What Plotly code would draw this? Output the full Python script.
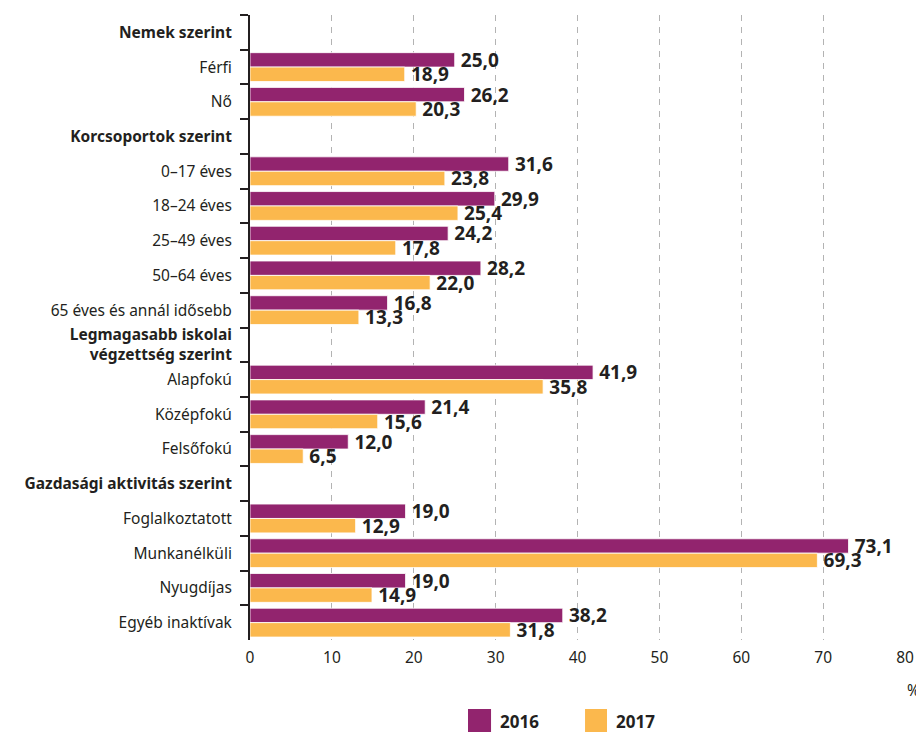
import plotly.graph_objects as go

categories = [
    "<b>Nemek szerint</b>", "Férfi", "Nő",
    "<b>Korcsoportok szerint</b>", "0–17 éves", "18–24 éves", "25–49 éves", "50–64 éves",
    "65 éves és annál idősebb",
    "<b>Legmagasabb iskolai<br>végzettség szerint</b>", "Alapfokú", "Középfokú", "Felsőfokú",
    "<b>Gazdasági aktivitás szerint</b>", "Foglalkoztatott", "Munkanélküli", "Nyugdíjas",
    "Egyéb inaktívak",
]
values_2016 = [None, 25.0, 26.2, None, 31.6, 29.9, 24.2, 28.2, 16.8, None, 41.9, 21.4, 12.0,
               None, 19.0, 73.1, 19.0, 38.2]
values_2017 = [None, 18.9, 20.3, None, 23.8, 25.4, 17.8, 22.0, 13.3, None, 35.8, 15.6, 6.5,
               None, 12.9, 69.3, 14.9, 31.8]
x_ticks = [0, 10, 20, 30, 40, 50, 60, 70, 80]
series_names = ["2016", "2017"]
colors = ["#92246e", "#fbb84d"]

FONT = "Noto Sans"
DARK = "#231f20"


def fmt(vals, pad="\u2009"):
    return [pad + f"{v:.1f}".replace(".", ",") if v is not None else "" for v in vals]


fig = go.Figure()
for name, vals, col in [(series_names[0], values_2016, colors[0]),
                        (series_names[1], values_2017, colors[1])]:
    fig.add_trace(go.Bar(
        y=categories, x=vals, orientation="h", name=name,
        marker=dict(color=col, line=dict(color="rgba(255,255,255,0.8)", width=1)),
        text=fmt(vals), textposition="outside", constraintext="none",
        textfont=dict(family=FONT, size=19, color=DARK, weight="bold"),
        cliponaxis=False, showlegend=False,
    ))

# The page body has an 8px margin; the figure is sized to fill the rest of the window.
fig.update_layout(
    width=916, height=725,
    margin=dict(l=242, r=19, t=7, b=93),
    paper_bgcolor="white", plot_bgcolor="white",
    barmode="group", bargap=0.17, bargroupgap=0,
    font=dict(family=FONT, size=15.5, color=DARK),
    xaxis=dict(
        range=[0, 80], tickvals=x_ticks, ticktext=[str(t) for t in x_ticks],
        showgrid=True, gridcolor="#b3b3b3", griddash="6px,6px", gridwidth=1,
        zeroline=False, showline=False, ticks="", tickfont=dict(size=15.5, color=DARK),
        ticklabelstandoff=6, fixedrange=True,
    ),
    yaxis=dict(
        type="category", categoryorder="array", categoryarray=categories,
        autorange="reversed", showline=True, linecolor=DARK, linewidth=2,
        ticks="outside", tickson="boundaries", ticklen=8, tickwidth=2, tickcolor=DARK,
        tickfont=dict(size=15.5, color=DARK), ticklabelstandoff=13, showgrid=False,
    ),
    annotations=[
        dict(text="%", xref="paper", yref="paper", x=1.0137, y=-0.08, showarrow=False,
             font=dict(size=15.5, color=DARK), xanchor="center", yanchor="middle"),
        dict(text="<b>2016</b>", xref="paper", yref="paper", x=0.378, y=-0.1296,
             showarrow=False, font=dict(size=17, color=DARK), xanchor="left", yanchor="middle"),
        dict(text="<b>2017</b>", xref="paper", yref="paper", x=0.555, y=-0.1296,
             showarrow=False, font=dict(size=17, color=DARK), xanchor="left", yanchor="middle"),
    ],
    shapes=[
        dict(type="rect", xref="paper", yref="paper", x0=0.3328, x1=0.368, y0=-0.1472,
             y1=-0.1104, fillcolor=colors[0], line=dict(width=0)),
        dict(type="rect", xref="paper", yref="paper", x0=0.5115, x1=0.545, y0=-0.1472,
             y1=-0.1104, fillcolor=colors[1], line=dict(width=0)),
    ],
)

fig.write_html("out.html")
